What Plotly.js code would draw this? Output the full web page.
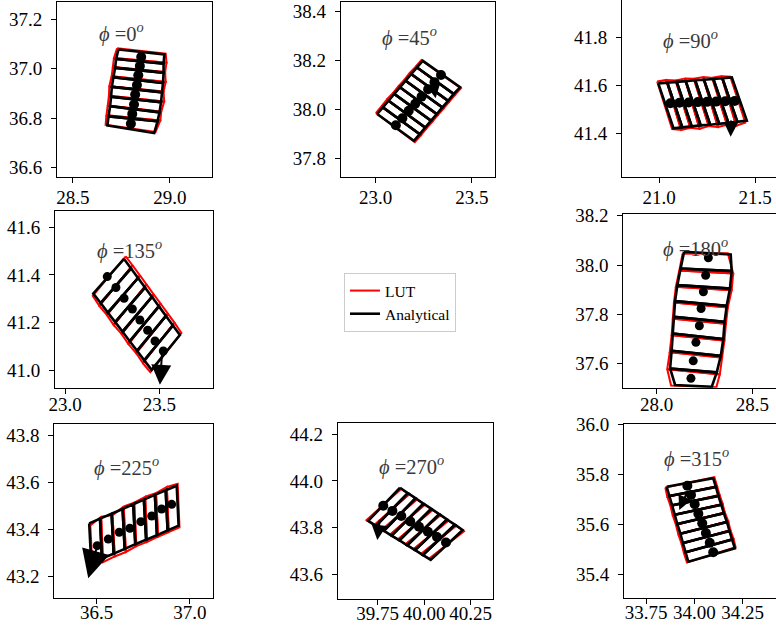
<!DOCTYPE html>
<html><head><meta charset="utf-8">
<script src="https://cdn.plot.ly/plotly-3.0.1.min.js"></script>
<style>html,body{margin:0;padding:0;background:#fff}#chart{width:776px;height:632px}</style>
</head><body><div id="chart"></div>
<script>
// ---------------- DATA ----------------
const angles = [0, 45, 90, 135, 180, 225, 270, 315];

// phi = 0
const p0_bPx = [28.735, 28.723, 28.718, 28.709, 28.701, 28.697, 28.692, 28.684, 28.678];
const p0_bPy = [37.077, 37.039, 37.003, 36.965, 36.926, 36.886, 36.848, 36.807, 36.770];
const p0_bQx = [28.971, 28.967, 28.967, 28.964, 28.959, 28.954, 28.946, 28.936, 28.919];
const p0_bQy = [37.057, 37.020, 36.983, 36.942, 36.904, 36.864, 36.823, 36.787, 36.740];
const p0_rPx = [28.728, 28.712, 28.706, 28.700, 28.688, 28.686, 28.680, 28.673, 28.669];
const p0_rPy = [37.082, 37.043, 37.006, 36.969, 36.929, 36.890, 36.851, 36.811, 36.773];
const p0_rQx = [28.978, 28.982, 28.975, 28.978, 28.967, 28.970, 28.955, 28.950, 28.926];
const p0_rQy = [37.060, 37.024, 36.986, 36.946, 36.907, 36.867, 36.826, 36.790, 36.744];
const p0_dx = [28.852, 28.845, 28.837, 28.830, 28.821, 28.815, 28.806, 28.799];
const p0_dy = [37.047, 37.010, 36.973, 36.934, 36.895, 36.855, 36.817, 36.777];

// phi = 45
const p45_bPx = [23.008, 23.038, 23.067, 23.097, 23.126, 23.156, 23.185, 23.215, 23.245];
const p45_bPy = [37.981, 38.008, 38.035, 38.063, 38.090, 38.117, 38.144, 38.171, 38.198];
const p45_bQx = [23.199, 23.229, 23.258, 23.288, 23.318, 23.347, 23.377, 23.406, 23.439];
const p45_bQy = [37.872, 37.899, 37.926, 37.954, 37.981, 38.008, 38.035, 38.063, 38.090];
const p45_rPx = [23.001, 23.030, 23.058, 23.090, 23.118, 23.149, 23.176, 23.208, 23.238];
const p45_rPy = [37.985, 38.012, 38.040, 38.066, 38.094, 38.120, 38.148, 38.174, 38.201];
const p45_rQx = [23.204, 23.236, 23.263, 23.295, 23.323, 23.354, 23.382, 23.413, 23.444];
const p45_rQy = [37.866, 37.895, 37.921, 37.950, 37.976, 38.004, 38.030, 38.059, 38.086];
const p45_dx = [23.105, 23.139, 23.172, 23.206, 23.239, 23.273, 23.306, 23.340];
const p45_dy = [37.935, 37.964, 37.994, 38.023, 38.052, 38.082, 38.111, 38.140];

// phi = 90
const p90_bPx = [20.996, 21.043, 21.092, 21.139, 21.188, 21.234, 21.283, 21.330, 21.379];
const p90_bPy = [41.608, 41.611, 41.614, 41.617, 41.621, 41.623, 41.626, 41.629, 41.633];
const p90_bQx = [21.075, 21.121, 21.170, 21.217, 21.266, 21.313, 21.361, 21.408, 21.457];
const p90_bQy = [41.421, 41.425, 41.429, 41.433, 41.436, 41.440, 41.444, 41.448, 41.453];
const p90_rPx = [20.990, 21.037, 21.086, 21.134, 21.181, 21.229, 21.277, 21.325, 21.371];
const p90_rPy = [41.616, 41.622, 41.620, 41.628, 41.627, 41.634, 41.631, 41.638, 41.636];
const p90_rQx = [21.068, 21.115, 21.163, 21.211, 21.259, 21.307, 21.354, 21.402, 21.449];
const p90_rQy = [41.418, 41.414, 41.423, 41.419, 41.430, 41.426, 41.436, 41.432, 41.445];
const p90_dx = [21.059, 21.106, 21.154, 21.202, 21.250, 21.297, 21.345, 21.394];
const p90_dy = [41.525, 41.527, 41.528, 41.530, 41.531, 41.532, 41.534, 41.535];

// phi = 135
const p135_bPx = [23.313, 23.350, 23.387, 23.424, 23.461, 23.498, 23.535, 23.572, 23.609];
const p135_bPy = [41.467, 41.427, 41.387, 41.347, 41.308, 41.268, 41.228, 41.188, 41.148];
const p135_bQx = [23.150, 23.189, 23.227, 23.266, 23.305, 23.343, 23.382, 23.420, 23.459];
const p135_bQy = [41.322, 41.282, 41.242, 41.202, 41.162, 41.122, 41.082, 41.042, 41.002];
const p135_rPx = [23.322, 23.358, 23.397, 23.432, 23.470, 23.506, 23.545, 23.580, 23.617];
const p135_rPy = [41.478, 41.440, 41.398, 41.360, 41.318, 41.280, 41.238, 41.200, 41.157];
const p135_rQx = [23.147, 23.182, 23.222, 23.258, 23.300, 23.336, 23.377, 23.413, 23.452];
const p135_rQy = [41.312, 41.270, 41.232, 41.190, 41.152, 41.110, 41.072, 41.030, 40.992];
const p135_dx = [23.224, 23.270, 23.313, 23.357, 23.397, 23.438, 23.477, 23.521];
const p135_dy = [41.393, 41.347, 41.302, 41.257, 41.211, 41.168, 41.123, 41.081];

// phi = 180
const p180_bPx = [28.143, 28.125, 28.108, 28.096, 28.090, 28.084, 28.078, 28.070, 28.096];
const p180_bPy = [38.054, 37.986, 37.919, 37.854, 37.790, 37.723, 37.653, 37.581, 37.514];
const p180_bQx = [28.387, 28.392, 28.383, 28.366, 28.355, 28.348, 28.335, 28.314, 28.288];
const p180_bQy = [38.043, 37.976, 37.905, 37.835, 37.770, 37.700, 37.632, 37.565, 37.507];
const p180_rPx = [28.135, 28.118, 28.100, 28.090, 28.084, 28.078, 28.068, 28.055, 28.075];
const p180_rPy = [38.046, 37.978, 37.912, 37.848, 37.783, 37.716, 37.647, 37.578, 37.512];
const p180_rQx = [28.372, 28.400, 28.392, 28.372, 28.362, 28.354, 28.342, 28.330, 28.312];
const p180_rQy = [38.048, 37.966, 37.898, 37.828, 37.762, 37.694, 37.625, 37.557, 37.505];
const p180_dx = [28.270, 28.256, 28.244, 28.232, 28.223, 28.205, 28.191, 28.179];
const p180_dy = [38.030, 37.959, 37.892, 37.824, 37.754, 37.687, 37.612, 37.541];

// phi = 225
const p225_bPx = [36.460, 36.518, 36.580, 36.639, 36.696, 36.753, 36.812, 36.870, 36.929];
const p225_bPy = [43.427, 43.447, 43.468, 43.488, 43.508, 43.528, 43.548, 43.568, 43.587];
const p225_bQx = [36.471, 36.528, 36.591, 36.650, 36.707, 36.765, 36.823, 36.880, 36.939];
const p225_bQy = [43.257, 43.277, 43.298, 43.318, 43.338, 43.357, 43.377, 43.397, 43.417];
const p225_rPx = [36.466, 36.524, 36.585, 36.645, 36.701, 36.760, 36.818, 36.876, 36.934];
const p225_rPy = [43.418, 43.455, 43.462, 43.499, 43.515, 43.540, 43.556, 43.582, 43.595];
const p225_rQx = [36.476, 36.534, 36.597, 36.656, 36.713, 36.770, 36.829, 36.886, 36.944];
const p225_rQy = [43.262, 43.262, 43.286, 43.305, 43.330, 43.348, 43.370, 43.390, 43.410];
const p225_dx = [36.503, 36.562, 36.621, 36.678, 36.737, 36.795, 36.848, 36.902];
const p225_dy = [43.332, 43.360, 43.389, 43.406, 43.434, 43.458, 43.488, 43.508];

// phi = 270
const p270_bPx = [39.870, 39.912, 39.954, 39.996, 40.038, 40.081, 40.123, 40.165, 40.207];
const p270_bPy = [43.971, 43.948, 43.926, 43.903, 43.881, 43.858, 43.835, 43.813, 43.790];
const p270_bQx = [39.699, 39.741, 39.783, 39.825, 39.867, 39.909, 39.951, 39.993, 40.035];
const p270_bQy = [43.829, 43.808, 43.787, 43.766, 43.746, 43.725, 43.704, 43.683, 43.662];
const p270_rPx = [39.876, 39.920, 39.960, 40.004, 40.044, 40.088, 40.129, 40.172, 40.214];
const p270_rPy = [43.966, 43.944, 43.921, 43.899, 43.876, 43.854, 43.830, 43.809, 43.785];
const p270_rQx = [39.690, 39.733, 39.775, 39.816, 39.859, 39.900, 39.943, 39.985, 40.027];
const p270_rQy = [43.833, 43.812, 43.792, 43.770, 43.750, 43.729, 43.708, 43.688, 43.668];
const p270_dx = [39.780, 39.829, 39.877, 39.925, 39.972, 40.020, 40.069, 40.117];
const p270_dy = [43.894, 43.872, 43.850, 43.827, 43.804, 43.783, 43.760, 43.737];

// phi = 315
const p315_bPx = [33.857, 33.871, 33.885, 33.899, 33.912, 33.928, 33.941, 33.955, 33.969];
const p315_bPy = [35.750, 35.713, 35.676, 35.638, 35.601, 35.562, 35.525, 35.488, 35.450];
const p315_bQx = [34.098, 34.112, 34.125, 34.140, 34.153, 34.169, 34.182, 34.196, 34.210];
const p315_bQy = [35.784, 35.749, 35.713, 35.678, 35.644, 35.609, 35.573, 35.539, 35.504];
const p315_rPx = [33.850, 33.860, 33.877, 33.888, 33.905, 33.917, 33.934, 33.946, 33.962];
const p315_rPy = [35.747, 35.710, 35.673, 35.636, 35.598, 35.560, 35.522, 35.485, 35.447];
const p315_rQx = [34.104, 34.118, 34.131, 34.147, 34.158, 34.176, 34.187, 34.203, 34.214];
const p315_rQy = [35.788, 35.752, 35.717, 35.681, 35.647, 35.612, 35.576, 35.542, 35.508];
const p315_dx = [33.964, 33.983, 34.002, 34.021, 34.041, 34.060, 34.080, 34.098];
const p315_dy = [35.754, 35.717, 35.680, 35.642, 35.604, 35.565, 35.526, 35.488];

// direction arrows (tail -> tip), null where none is visible
const arrowTailX = [null, 23.300, 21.375, 23.515, null, 36.503, 39.762, 33.968];
const arrowTailY = [null, 38.100, 41.460, 41.080, null, 43.332, 43.840, 35.737];
const arrowTipX  = [null, 23.312, 21.373, 23.503, null, 36.455, 39.748, 33.922];
const arrowTipY  = [null, 38.045, 41.386, 40.939, null, 43.193, 43.747, 35.657];

// tick values / labels
const xTickVals = [[28.5, 29.0], [23.0, 23.5], [21.0, 21.5], [23.0, 23.5], [28.0, 28.5], [36.5, 37.0], [39.75, 40.0, 40.25], [33.75, 34.0, 34.25]];
const xTickText = [['28.5','29.0'], ['23.0','23.5'], ['21.0','21.5'], ['23.0','23.5'], ['28.0','28.5'], ['36.5','37.0'], ['39.75','40.00','40.25'], ['33.75','34.00','34.25']];
const yTickVals = [[36.6, 36.8, 37.0, 37.2], [37.8, 38.0, 38.2, 38.4], [41.4, 41.6, 41.8], [41.0, 41.2, 41.4, 41.6], [37.6, 37.8, 38.0, 38.2], [43.2, 43.4, 43.6, 43.8], [43.6, 43.8, 44.0, 44.2], [35.4, 35.6, 35.8, 36.0]];
const yTickText = [['36.6','36.8','37.0','37.2'], ['37.8','38.0','38.2','38.4'], ['41.4','41.6','41.8'], ['41.0','41.2','41.4','41.6'], ['37.6','37.8','38.0','38.2'], ['43.2','43.4','43.6','43.8'], ['43.6','43.8','44.0','44.2'], ['35.4','35.6','35.8','36.0']];
const seriesNames = ['LUT', 'Analytical'];

// ---------------- LAYOUT (pixels of the 776x632 picture) ----------------
const W = 776, H = 632;
const boxes = [
  {x0: 57, x1: 212, y0: 2, y1: 177, xr: [28.419, 29.216], yr: [36.562, 37.269], tx: 0.255, ty: 0.823, xs: -2, dot: 10, ah: 1.6},
  {x0: 340.7, x1: 495, y0: 2, y1: 177, xr: [22.818, 23.621], yr: [37.724, 38.438], tx: 0.252, ty: 0.80, xs: -2, dot: 10, ah: 1.3},
  {x0: 622, x1: 776, y0: 0, y1: 177.3, xr: [20.807, 21.609], yr: [41.217, 41.955], tx: 0.255, ty: 0.78, xs: -2, dot: 10, ah: 1.4, right: true, cutTop: true},
  {x0: 55, x1: 213.3, y0: 211, y1: 387.7, xr: [22.947, 23.786], yr: [40.927, 41.668], tx: 0.25, ty: 0.78, xs: -6, dot: 9, ah: 2.0},
  {x0: 623.3, x1: 776, y0: 214.3, y1: 387.7, xr: [27.825, 28.624], yr: [37.503, 38.206], tx: 0.25, ty: 0.806, xs: -6, dot: 9, ah: 1.6, right: true},
  {x0: 54.3, x1: 213.3, y0: 424, y1: 598, xr: [36.273, 37.125], yr: [43.109, 43.850], tx: 0.24, ty: 0.753, xs: -8, dot: 9, ah: 2.8},
  {x0: 337.7, x1: 493, y0: 423, y1: 599, xr: [39.535, 40.370], yr: [43.495, 44.248], tx: 0.25, ty: 0.761, xs: -8, dot: 10, ah: 1.5},
  {x0: 624, x1: 776, y0: 424, y1: 598, xr: [33.636, 34.423], yr: [35.305, 36.001], tx: 0.247, ty: 0.81, xs: -8, dot: 10, ah: 1.4, right: true}
];

const panels = [
  {b: [p0_bPx, p0_bPy, p0_bQx, p0_bQy], r: [p0_rPx, p0_rPy, p0_rQx, p0_rQy], d: [p0_dx, p0_dy]},
  {b: [p45_bPx, p45_bPy, p45_bQx, p45_bQy], r: [p45_rPx, p45_rPy, p45_rQx, p45_rQy], d: [p45_dx, p45_dy]},
  {b: [p90_bPx, p90_bPy, p90_bQx, p90_bQy], r: [p90_rPx, p90_rPy, p90_rQx, p90_rQy], d: [p90_dx, p90_dy]},
  {b: [p135_bPx, p135_bPy, p135_bQx, p135_bQy], r: [p135_rPx, p135_rPy, p135_rQx, p135_rQy], d: [p135_dx, p135_dy]},
  {b: [p180_bPx, p180_bPy, p180_bQx, p180_bQy], r: [p180_rPx, p180_rPy, p180_rQx, p180_rQy], d: [p180_dx, p180_dy]},
  {b: [p225_bPx, p225_bPy, p225_bQx, p225_bQy], r: [p225_rPx, p225_rPy, p225_rQx, p225_rQy], d: [p225_dx, p225_dy]},
  {b: [p270_bPx, p270_bPy, p270_bQx, p270_bQy], r: [p270_rPx, p270_rPy, p270_rQx, p270_rQy], d: [p270_dx, p270_dy]},
  {b: [p315_bPx, p315_bPy, p315_bQx, p315_bQy], r: [p315_rPx, p315_rPy, p315_rQx, p315_rQy], d: [p315_dx, p315_dy]}
];

// each footprint cell k is the closed quadrilateral between boundary k and boundary k+1
function cellPath(Px, Py, Qx, Qy) {
  const x = [], y = [];
  for (let k = 0; k < Px.length - 1; k++) {
    x.push(Px[k], Qx[k], Qx[k + 1], Px[k + 1], Px[k], null);
    y.push(Py[k], Qy[k], Qy[k + 1], Py[k + 1], Py[k], null);
  }
  return {x, y};
}

const FONT = 'Liberation Serif, DejaVu Serif, serif';
const traces = [];
const layout = {
  width: W, height: H,
  margin: {l: 0, r: 0, t: 0, b: 0},
  paper_bgcolor: '#ffffff', plot_bgcolor: '#ffffff',
  font: {family: FONT, size: 19, color: '#000'},
  showlegend: true,
  legend: {
    x: 344 / W, y: 1 - 273 / H, xanchor: 'left', yanchor: 'top',
    bordercolor: '#cccccc', borderwidth: 1, bgcolor: '#ffffff',
    font: {family: FONT, size: 15.5, color: '#000'},
    tracegroupgap: 0, itemwidth: 30
  },
  annotations: []
};

panels.forEach((p, i) => {
  const n = i + 1;
  const xa = n === 1 ? 'x' : 'x' + n;
  const ya = n === 1 ? 'y' : 'y' + n;
  const bx = boxes[i];
  const red = cellPath(...p.r);
  const blk = cellPath(...p.b);
  traces.push({type: 'scatter', mode: 'lines', x: red.x, y: red.y, xaxis: xa, yaxis: ya,
    name: seriesNames[0], legendgroup: 'lut', showlegend: i === 0,
    line: {color: '#ff0000', width: 2}, hoverinfo: 'skip'});
  traces.push({type: 'scatter', mode: 'lines', x: blk.x, y: blk.y, xaxis: xa, yaxis: ya,
    name: seriesNames[1], legendgroup: 'ana', showlegend: i === 0,
    line: {color: '#000000', width: 2.6}, hoverinfo: 'skip'});
  traces.push({type: 'scatter', mode: 'markers', x: p.d[0], y: p.d[1], xaxis: xa, yaxis: ya,
    showlegend: false, marker: {color: '#000000', size: bx.dot, line: {width: 0}}, hoverinfo: 'skip'});

  const common = {showgrid: false, zeroline: false, showline: true, linecolor: '#000', linewidth: 1,
    ticks: 'outside', ticklen: 5, tickwidth: 1, tickcolor: '#000',
    tickfont: {family: FONT, size: 19, color: '#000'}, fixedrange: true};
  layout['xaxis' + (n === 1 ? '' : n)] = Object.assign({}, common, {
    domain: [bx.x0 / W, bx.x1 / W], anchor: ya, range: bx.xr,
    tickmode: 'array', tickvals: xTickVals[i], ticktext: xTickText[i],
    mirror: bx.cutTop ? false : true, ticklabelstandoff: bx.xs
  });
  layout['yaxis' + (n === 1 ? '' : n)] = Object.assign({}, common, {
    domain: [1 - bx.y1 / H, 1 - bx.y0 / H], anchor: xa, range: bx.yr,
    tickmode: 'array', tickvals: yTickVals[i], ticktext: yTickText[i],
    mirror: bx.right ? false : true, ticklabelstandoff: 5
  });

  layout.annotations.push({
    xref: xa + ' domain', yref: ya + ' domain', x: bx.tx, y: bx.ty,
    xanchor: 'left', yanchor: 'middle', showarrow: false,
    text: '<i>ϕ</i> =' + angles[i] + '<sup><i>o</i></sup>',
    font: {family: FONT, size: 20.5, color: '#3a3a3a'}
  });

  if (arrowTipX[i] !== null) {
    layout.annotations.push({
      xref: xa, yref: ya, axref: xa, ayref: ya,
      x: arrowTipX[i], y: arrowTipY[i], ax: arrowTailX[i], ay: arrowTailY[i],
      text: '', showarrow: true, arrowhead: 2, arrowsize: bx.ah, arrowwidth: 2,
      arrowcolor: '#000', standoff: 0, startstandoff: 0
    });
  }
});

Plotly.newPlot('chart', traces, layout, {staticPlot: true, displayModeBar: false});
</script>
</body></html>
